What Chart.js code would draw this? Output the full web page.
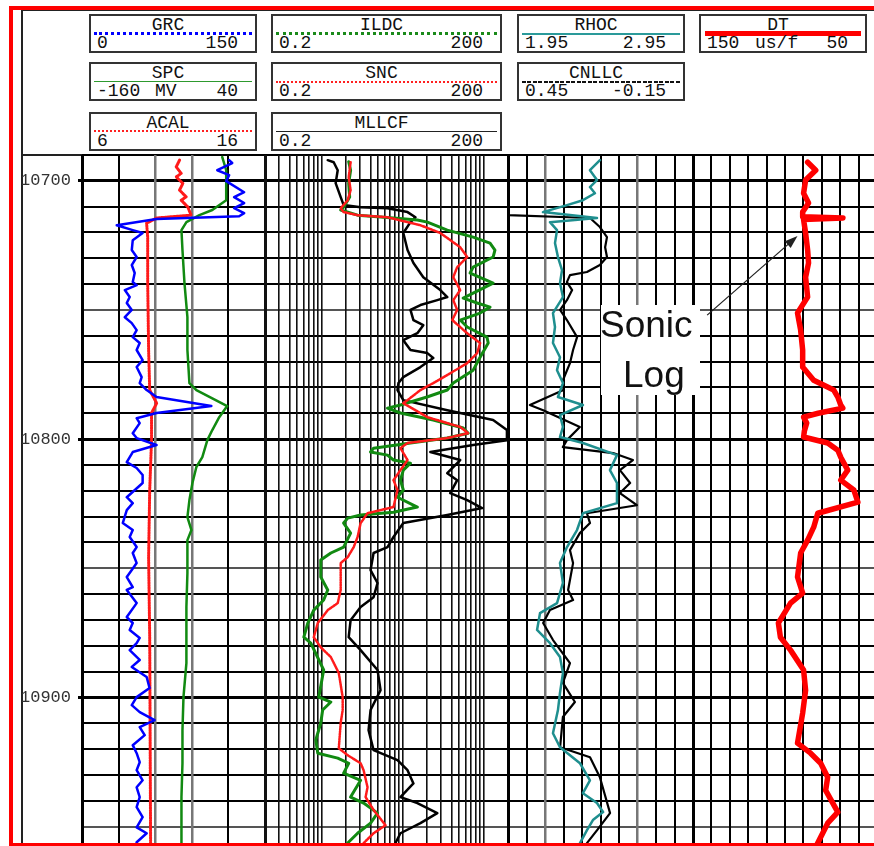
<!DOCTYPE html>
<html>
<head>
<meta charset="utf-8">
<title>Well log</title>
<script src="https://cdn.jsdelivr.net/npm/chart.js@4.4.1/dist/chart.umd.min.js"></script>
<style>
  html, body { margin: 0; padding: 0; background: #fff; }
  #page { position: relative; width: 874px; height: 846px; overflow: hidden; background: #fff; }
  #redFrame { position: absolute; left: 9px; top: 6px; width: 900px; height: 833px; z-index: 5;
              border-left: 4px solid #ff0000; border-top: 4px solid #ff0000; border-bottom: 3px solid #ff0000; }
  .rule { position: absolute; background: #222; }
  canvas { position: absolute; }
  .box { position: absolute; height: 39px; box-sizing: border-box; border: 2px solid #333;
         font-family: 'Liberation Mono', 'Courier New', monospace; font-size: 18px; color: #111; }
  .box .t { position: absolute; left: 0; right: 10px; top: 1px; line-height: 16px; text-align: center; }
  .box .ln { position: absolute; left: 3px; right: 3px; height: 0; }
  .box .lo, .box .hi, .box .mid { position: absolute; top: 19px; line-height: 16px; white-space: pre; }
  .box .lo { left: 6px; }
  .box .hi { right: 17px; }
  #note { position: absolute; left: 601px; top: 305px; width: 99px; height: 90px; background: #fff; z-index: 3; }
  #note span { position: absolute; font-family: 'Liberation Sans', Arial, sans-serif; font-size: 37px; line-height: 37px; color: #111; }
</style>
</head>
<body>
<div id="page">
  <div class="rule" style="left:21px;top:10px;width:2px;height:836px"></div>
  <div class="rule" style="left:21px;top:10px;width:860px;height:1px"></div>
  <div class="rule" style="left:21px;top:154px;width:860px;height:2px"></div>

  <!-- curve headers -->
  <div class="box" style="left:89px;top:14px;width:168px">
    <div class="t">GRC</div>
    <div class="ln" style="top:16px;border-top:3px dotted #0000ff"></div>
    <span class="lo">0</span><span class="hi">150</span>
  </div>
  <div class="box" style="left:89px;top:62px;width:168px">
    <div class="t">SPC</div>
    <div class="ln" style="top:17px;border-top:1.5px solid #2e9a2e"></div>
    <span class="lo">-160</span><span class="mid" style="left:64px">MV</span><span class="hi">40</span>
  </div>
  <div class="box" style="left:89px;top:112px;width:168px">
    <div class="t">ACAL</div>
    <div class="ln" style="top:16px;border-top:2.5px dotted #ff2020"></div>
    <span class="lo">6</span><span class="hi">16</span>
  </div>
  <div class="box" style="left:271px;top:14px;width:231px">
    <div class="t">ILDC</div>
    <div class="ln" style="top:16px;border-top:3px dotted #1a8a1a"></div>
    <span class="lo">0.2</span><span class="hi">200</span>
  </div>
  <div class="box" style="left:271px;top:62px;width:231px">
    <div class="t">SNC</div>
    <div class="ln" style="top:16.5px;border-top:2px dotted #ff2020"></div>
    <span class="lo">0.2</span><span class="hi">200</span>
  </div>
  <div class="box" style="left:271px;top:112px;width:231px">
    <div class="t">MLLCF</div>
    <div class="ln" style="top:17px;border-top:1.5px solid #222"></div>
    <span class="lo">0.2</span><span class="hi">200</span>
  </div>
  <div class="box" style="left:517px;top:14px;width:168px">
    <div class="t">RHOC</div>
    <div class="ln" style="top:16.5px;border-top:2px solid #2a9a9a"></div>
    <span class="lo">1.95</span><span class="hi">2.95</span>
  </div>
  <div class="box" style="left:517px;top:62px;width:168px">
    <div class="t">CNLLC</div>
    <div class="ln" style="top:16.5px;height:2.5px;background:repeating-linear-gradient(90deg,#111 0 4px,transparent 4px 5.5px)"></div>
    <span class="lo">0.45</span><span class="hi">-0.15</span>
  </div>
  <div class="box" style="left:699px;top:14px;width:168px">
    <div class="t">DT</div>
    <div class="ln" style="top:15px;left:4px;right:4px;border-top:5.5px solid #ff0000"></div>
    <span class="lo">150</span><span class="mid" style="left:54px">us/f</span><span class="hi">50</span>
  </div>

  <canvas id="track1" width="249" height="696" style="left:20px;top:153px"></canvas>
  <canvas id="track2" width="251" height="696" style="left:261px;top:153px"></canvas>
  <canvas id="track3" width="193" height="696" style="left:504px;top:153px"></canvas>
  <canvas id="track4" width="192" height="696" style="left:689px;top:153px"></canvas>

  <div id="note">
    <span style="left:-1px;top:0.5px">Sonic</span>
    <span style="left:22px;top:50.5px">Log</span>
  </div>
  <div id="redFrame"></div>
</div>

<script>
// ---- depth axis ----
const depthMin = 10690;
const depthMax = 10958.7;
const depthLabels = [10700, 10800, 10900];
const depthGrid = [];
for (let d = 10690; d <= 10950; d += 10) depthGrid.push(d);

// ---- track 1 curves: [depth, value] ----
const grcCurve = [
  [10692.0,120.6],[10693.1,123.1],[10695.9,110.9],[10697.8,120.6],[10700.1,118.2],[10704.4,132.9],
  [10706.3,124.7],[10708.6,132.9],[10710.6,124.7],[10712.5,132.9],[10713.7,128.8],[10714.8,61.1],
  [10717.2,28.5],[10719.1,41.6],[10720.2,49.7],[10723.0,41.6],[10726.8,40.8],[10729.5,44.8],
  [10732.6,40.8],[10735.7,43.2],[10739.2,41.6],[10740.4,44.8],[10742.3,35.1],[10745.0,39.1],
  [10747.3,36.7],[10750.0,40.8],[10752.8,35.1],[10755.1,40.8],[10757.8,44.8],[10760.5,41.6],
  [10762.8,47.3],[10765.5,44.8],[10769.4,49.7],[10772.1,44.8],[10776.0,48.9],[10778.3,47.3],
  [10781.0,53.0],[10783.7,61.1],[10787.2,106.0],[10789.9,61.1],[10791.9,44.8],[10793.8,47.3],
  [10797.7,41.6],[10799.6,44.8],[10802.3,61.1],[10805.0,41.6],[10808.9,36.7],[10811.2,44.8],
  [10813.9,49.7],[10817.0,49.7],[10822.5,36.7],[10824.8,41.6],[10827.5,36.7],[10832.5,33.4],
  [10835.2,41.6],[10837.9,39.1],[10841.8,44.8],[10844.1,41.6],[10848.0,44.8],[10850.7,40.8],
  [10853.4,36.7],[10857.3,41.6],[10858.4,36.7],[10863.5,44.8],[10868.9,36.7],[10871.2,41.6],
  [10873.9,39.1],[10877.0,47.3],[10879.0,44.8],[10881.7,39.1],[10885.5,47.3],[10888.2,40.8],
  [10892.1,53.0],[10896.4,55.4],[10899.9,44.8],[10903.0,40.8],[10905.7,47.3],[10908.8,59.5],
  [10911.5,47.3],[10914.6,51.4],[10918.5,41.6],[10921.6,44.8],[10925.1,47.3],[10928.2,44.8],
  [10932.1,49.7],[10934.8,44.8],[10938.6,47.3],[10942.5,44.8],[10946.4,49.7],[10950.3,44.8],
  [10952.6,53.0],[10956.1,44.8],[10959.0,44.0]
];
const spcCurve = [
  [10690.8,-6.7],[10695.9,-2.4],[10700.1,-2.4],[10707.5,-2.4],[10711.3,-17.6],[10713.3,-31.7],
  [10716.0,-45.9],[10719.1,-51.3],[10726.8,-50.2],[10739.6,-48.0],[10752.8,-44.8],[10765.5,-44.8],
  [10778.3,-42.6],[10781.0,-35.0],[10784.2,-17.6],[10787.2,-1.3],[10791.5,-10.0],[10796.5,-17.6],
  [10800.4,-23.0],[10807.0,-28.5],[10810.8,-35.0],[10817.0,-39.3],[10823.6,-42.6],[10830.2,-44.8],
  [10835.2,-40.4],[10839.1,-44.8],[10851.9,-44.8],[10865.0,-45.9],[10886.7,-45.9],[10899.9,-49.1],
  [10912.7,-50.2],[10925.5,-50.2],[10938.6,-51.3],[10959.0,-51.3]
];
const acalCurve = [
  [10692.0,11.33],[10694.6,11.15],[10697.1,11.42],[10698.5,11.15],[10701.0,11.51],[10703.6,11.33],
  [10706.2,11.69],[10707.5,11.42],[10710.1,11.78],[10713.3,11.96],[10714.4,10.08],[10716.4,9.53],
  [10721.8,9.59],[10739.6,9.59],[10765.5,9.64],[10781.0,9.70],[10786.1,10.08],[10789.9,9.80],
  [10800.4,9.80],[10819.7,9.70],[10845.7,9.64],[10876.7,9.70],[10959.0,9.75]
];

// ---- track 2 curves (log 0.2 - 200) ----
const ildcCurve = [
  [10692.6,2.16],[10695.9,2.28],[10700.9,2.16],[10706.3,2.22],[10710.2,1.87],[10711.3,1.72],
  [10713.3,2.78],[10714.4,7.71],[10715.2,15.2],[10716.0,20.2],[10719.1,35.6],[10721.8,74.3],
  [10724.1,120],[10726.8,138],[10729.5,131],[10733.4,74.3],[10735.7,68.2],[10739.6,131],
  [10743.5,74.3],[10745.4,56.0],[10747.3,83.2],[10748.9,120],[10751.2,90.5],[10753.9,51.4],
  [10756.6,62.7],[10760.5,110],[10762.8,114],[10768.3,90.5],[10773.3,74.3],[10778.3,42.2],
  [10781.0,35.6],[10783.7,20.0],[10786.8,9.40],[10788.0,6.51],[10789.9,9.40],[10792.6,23.9],
  [10795.7,56.0],[10797.7,64.5],[10799.6,35.6],[10801.5,12.5],[10803.5,4.38],[10805.0,4.02],
  [10806.2,6.51],[10808.1,7.71],[10809.3,12.5],[10812.0,10.2],[10815.9,9.40],[10819.7,10.2],
  [10822.5,8.64],[10826.3,15.2],[10828.3,7.71],[10829.4,3.03],[10830.6,2.10],[10832.5,1.87],
  [10836.4,2.28],[10841.8,1.87],[10844.1,1.30],[10846.8,0.976],[10853.4,0.976],[10858.4,1.19],
  [10862.3,1.06],[10866.2,0.80],[10871.2,0.676],[10876.7,0.603],[10879.0,0.736],[10889.4,1.06],
  [10899.9,0.923],[10901.8,1.30],[10904.9,1.03],[10909.9,0.976],[10916.5,0.848],[10921.6,0.897],
  [10923.5,1.58],[10925.5,2.16],[10929.3,1.87],[10932.1,3.03],[10938.6,2.28],[10940.9,3.30],
  [10944.8,4.90],[10948.7,4.02],[10952.6,2.78],[10956.4,2.10],[10959.0,1.90]
];
const sncCurve = [
  [10692.8,2.28],[10698.6,2.16],[10703.6,2.28],[10707.5,2.10],[10710.6,1.72],[10712.1,1.87],
  [10713.3,2.78],[10714.1,6.51],[10716.0,11.5],[10717.2,16.6],[10720.2,29.2],[10725.7,51.4],
  [10729.5,62.7],[10733.4,47.2],[10737.3,42.2],[10742.3,51.4],[10746.2,42.2],[10750.0,47.2],
  [10753.9,41.0],[10759.0,62.7],[10762.8,90.5],[10766.7,83.2],[10770.6,62.7],[10774.5,38.7],
  [10778.3,23.9],[10781.0,16.6],[10784.9,11.5],[10786.1,10.2],[10791.5,20.2],[10795.3,51.4],
  [10797.7,64.5],[10799.6,35.6],[10801.5,11.5],[10803.5,9.40],[10808.1,11.5],[10812.0,9.40],
  [10815.9,7.71],[10819.7,8.64],[10826.3,7.71],[10828.7,3.69],[10832.5,3.03],[10837.9,2.78],
  [10841.8,2.49],[10845.7,2.10],[10848.0,1.72],[10858.4,1.72],[10863.5,1.58],[10866.2,1.19],
  [10871.2,0.897],[10876.7,0.80],[10880.6,0.976],[10884.4,1.30],[10890.6,1.63],[10899.9,1.82],
  [10904.9,1.82],[10909.9,1.72],[10919.7,1.63],[10922.4,2.10],[10925.5,3.03],[10928.2,3.30],
  [10934.8,3.69],[10938.6,3.49],[10943.6,4.38],[10949.5,6.15],[10952.6,4.38],[10956.4,3.30],
  [10959.0,2.90]
];
const mllcfCurve = [
  [10692.0,1.19],[10692.8,1.41],[10695.9,1.58],[10700.9,1.49],[10706.3,1.72],[10709.4,1.87],
  [10710.2,3.03],[10710.6,6.51],[10712.1,11.5],[10714.1,14.4],[10716.0,12.5],[10720.2,10.2],
  [10726.8,11.5],[10731.8,13.6],[10737.3,18.0],[10742.3,29.2],[10745.0,35.6],[10746.2,26.8],
  [10748.1,16.6],[10750.0,12.5],[10753.9,13.6],[10755.9,18.0],[10759.0,15.2],[10761.7,10.2],
  [10765.5,12.5],[10766.7,20.2],[10768.6,23.9],[10772.1,16.6],[10776.0,10.2],[10778.3,8.88],
  [10781.0,8.64],[10784.9,10.2],[10788.8,35.6],[10792.6,131],[10796.5,194],[10800.4,194],
  [10802.3,74.3],[10805.0,22.0],[10808.1,51.4],[10813.2,35.6],[10815.9,47.2],[10820.9,38.7],
  [10823.6,62.7],[10826.7,95.8],[10829.4,35.6],[10832.5,10.2],[10837.9,7.71],[10841.8,6.51],
  [10844.1,4.38],[10850.7,4.02],[10855.7,4.90],[10861.2,4.38],[10865.0,3.03],[10870.1,2.28],
  [10876.7,2.16],[10881.7,3.03],[10889.4,4.90],[10897.2,5.34],[10904.9,4.02],[10912.7,3.80],
  [10920.4,4.38],[10924.3,8.64],[10928.2,11.5],[10933.3,13.6],[10938.6,9.40],[10940.9,15.2],
  [10944.8,26.8],[10948.7,16.6],[10952.6,9.40],[10956.4,8.16],[10959.0,8.0]
];

// ---- track 3 curves ----
const rhocCurve = [
  [10692.0,2.447],[10695.9,2.393],[10699.7,2.431],[10702.4,2.393],[10704.8,2.420],[10707.5,2.355],
  [10709.4,2.269],[10712.1,2.139],[10714.4,2.431],[10716.0,2.177],[10719.1,2.215],[10724.1,2.204],
  [10729.5,2.220],[10734.6,2.242],[10739.6,2.231],[10745.0,2.247],[10751.2,2.193],[10756.6,2.204],
  [10762.8,2.193],[10768.3,2.231],[10773.3,2.215],[10778.3,2.247],[10783.7,2.220],[10786.8,2.355],
  [10790.7,2.231],[10795.3,2.247],[10799.2,2.231],[10801.5,2.355],[10806.2,2.539],[10812.0,2.501],
  [10817.0,2.539],[10824.8,2.539],[10828.7,2.355],[10835.2,2.323],[10841.8,2.269],[10848.0,2.231],
  [10855.7,2.247],[10863.5,2.215],[10867.4,2.123],[10873.9,2.107],[10879.0,2.177],[10884.4,2.231],
  [10890.6,2.247],[10898.3,2.231],[10904.9,2.220],[10913.9,2.193],[10919.3,2.231],[10925.5,2.339],
  [10932.1,2.393],[10937.1,2.355],[10940.9,2.431],[10944.4,2.464],[10947.5,2.409],[10951.4,2.377],
  [10956.4,2.339],[10959.0,2.33]
];
const cnllcCurve = [
  [10691.0,0.45],[10713.3,0.45],[10714.4,0.184],[10717.9,0.152],[10721.8,0.129],[10725.7,0.135],
  [10729.5,0.129],[10732.6,0.152],[10735.3,0.194],[10736.5,0.249],[10739.2,0.259],[10742.3,0.242],
  [10746.2,0.259],[10750.0,0.281],[10753.9,0.259],[10760.5,0.226],[10765.5,0.239],[10770.6,0.249],
  [10777.2,0.272],[10781.0,0.270],[10786.8,0.379],[10788.8,0.336],[10795.3,0.217],[10800.4,0.259],
  [10803.1,0.272],[10805.4,0.109],[10808.1,0.045],[10812.0,0.087],[10817.0,0.054],[10820.9,0.087],
  [10825.6,0.032],[10828.7,0.194],[10832.5,0.184],[10836.4,0.217],[10843.0,0.249],[10848.0,0.239],
  [10858.4,0.255],[10862.3,0.239],[10866.2,0.314],[10871.2,0.336],[10877.8,0.304],[10886.7,0.249],
  [10894.4,0.272],[10901.8,0.233],[10907.6,0.272],[10919.3,0.281],[10923.2,0.184],[10930.9,0.152],
  [10944.8,0.119],[10951.4,0.161],[10956.4,0.194],[10959.0,0.20]
];

// ---- track 4 curve ----
const dtCurve = [
  [10692.8,87.7],[10695.9,83.3],[10699.7,88.8],[10704.8,89.9],[10708.6,87.2],[10712.1,90.4],
  [10713.9,90.4],[10714.4,68.5],[10715.0,89.9],[10720.2,88.8],[10726.8,87.7],[10731.8,87.2],
  [10737.3,88.8],[10745.0,87.7],[10751.2,93.2],[10757.8,91.5],[10765.5,90.4],[10772.1,90.4],
  [10777.2,84.4],[10781.0,73.5],[10783.7,71.3],[10786.8,69.7],[10788.0,68.6],[10790.0,82.0],
  [10791.5,89.9],[10793.8,88.2],[10797.0,89.5],[10799.2,89.9],[10801.5,76.8],[10804.3,71.3],
  [10807.0,69.7],[10812.0,65.9],[10815.9,69.7],[10819.7,62.6],[10824.4,60.4],[10828.7,82.2],
  [10834.1,84.4],[10839.1,87.7],[10844.1,91.5],[10853.4,93.2],[10859.6,90.4],[10863.5,97.0],
  [10871.2,103.6],[10876.7,102.5],[10881.7,97.0],[10889.4,89.9],[10897.2,88.8],[10906.1,90.4],
  [10917.7,93.2],[10921.6,86.1],[10925.5,80.6],[10930.9,76.8],[10936.0,77.9],[10944.4,71.3],
  [10948.7,76.8],[10956.4,82.2],[10959.0,84.0]
];

// annotation arrow: [DT value, depth]
const sonicArrowTail = [142.3, 10752.0];
const sonicArrowTip = [93.2, 10721.4];

// ---- helpers ----
Chart.defaults.font.family = "'Liberation Mono', 'Courier New', monospace";
Chart.defaults.animation = false;

const toPoints = curve => curve.map(p => ({ x: p[1], y: p[0] }));

function depthScale(showLabels) {
  return {
    type: 'linear', position: 'left', reverse: true, min: depthMin, max: depthMax,
    afterBuildTicks: s => { s.ticks = depthGrid.map(v => ({ value: v })); },
    // no label padding: chart area must span the whole canvas height
    afterFit: s => { s.width = showLabels ? 60 : 0; s.paddingTop = 0; s.paddingBottom = 0; },
    border: { display: false },
    grid: {
      color: ctx => (ctx.tick && ctx.tick.value % 50 === 0 && ctx.tick.value % 100 !== 0) ? '#555' : '#000',
      lineWidth: ctx => (ctx.tick && ctx.tick.value % 100 === 0) ? 3 : 2,
      drawTicks: showLabels,
      tickLength: 4,
      tickColor: ctx => (ctx.tick && depthLabels.includes(ctx.tick.value)) ? '#000' : 'rgba(0,0,0,0)'
    },
    ticks: {
      display: showLabels, autoSkip: false, padding: 7, color: '#333',
      font: { size: 17 },
      callback: v => depthLabels.includes(v) ? String(v) : ''
    }
  };
}

const zeroFit = s => { s.height = 0; s.paddingLeft = 0; s.paddingRight = 0; };

function linearGrid(divs, grayIdx) {
  return {
    type: 'linear', position: 'bottom', min: 0, max: divs,
    afterBuildTicks: s => { s.ticks = Array.from({ length: divs + 1 }, (_, i) => ({ value: i })); },
    afterFit: zeroFit,
    border: { display: false },
    ticks: { display: false },
    grid: {
      drawTicks: false,
      color: ctx => grayIdx.includes(ctx.index) ? '#777' : '#000',
      lineWidth: ctx => (ctx.index === 0 || ctx.index === divs) ? 3 : (grayIdx.includes(ctx.index) ? 2.5 : 2)
    }
  };
}

const logGridValues = [];
[0.1, 1, 10, 100].forEach(p => {
  for (let m = 1; m <= 9; m++) {
    const v = +(m * p).toPrecision(2);
    if (v >= 0.2 && v <= 200) logGridValues.push(v);
  }
});

function logGrid() {
  const last = logGridValues.length - 1;
  return {
    type: 'logarithmic', position: 'bottom', min: 0.2, max: 200,
    afterBuildTicks: s => { s.ticks = logGridValues.map(v => ({ value: v })); },
    afterFit: zeroFit,
    border: { display: false },
    ticks: { display: false },
    grid: {
      drawTicks: false,
      color: '#111',
      lineWidth: ctx => (ctx.index === 0 || ctx.index === last) ? 3 : 1.6
    }
  };
}

const hiddenX = (min, max, extra) => Object.assign({ type: 'linear', position: 'bottom', display: false, min, max }, extra || {});

function curve(label, data, axis, color, width, dash) {
  return {
    label, data: toPoints(data), xAxisID: axis, yAxisID: 'y',
    showLine: true, pointRadius: 0, pointHoverRadius: 0, borderColor: color, borderWidth: width,
    borderDash: dash || [], borderJoinStyle: 'round', borderCapStyle: 'round', tension: 0
  };
}

function makeTrack(id, scales, datasets, padLeft, plugins) {
  return new Chart(document.getElementById(id), {
    type: 'scatter',
    data: { datasets },
    options: {
      responsive: false, animation: false,
      layout: { autoPadding: false, padding: { left: padLeft, right: 4, top: 2, bottom: 0 } },
      plugins: { legend: { display: false }, tooltip: { enabled: false } },
      scales
    },
    plugins: plugins || []
  });
}

// track 1: GR / SP / caliper
makeTrack('track1', {
  y: depthScale(true),
  xg: linearGrid(5, [2, 3]),
  xGRC: hiddenX(0, 150),
  xSPC: hiddenX(-160, 40),
  xACAL: hiddenX(6, 16)
}, [
  curve('GRC', grcCurve, 'xGRC', '#0000ff', 2.5),
  curve('SPC', spcCurve, 'xSPC', '#118a11', 2.5),
  curve('ACAL', acalCurve, 'xACAL', '#ff1a1a', 3, [1.5, 1])
], 2);

// track 2: resistivity (log)
makeTrack('track2', {
  y: depthScale(false),
  xg: logGrid(),
  xRes: { type: 'logarithmic', position: 'bottom', display: false, min: 0.2, max: 200 }
}, [
  curve('SNC', sncCurve, 'xRes', '#ff1a1a', 2.5, [1.5, 1]),
  curve('ILDC', ildcCurve, 'xRes', '#118a11', 3),
  curve('MLLCF', mllcfCurve, 'xRes', '#000000', 2.5)
], 4);

// track 3: density / neutron
makeTrack('track3', {
  y: depthScale(false),
  xg: linearGrid(10, [2, 7]),
  xRHOC: hiddenX(1.95, 2.95),
  xCNL: hiddenX(-0.15, 0.45, { reverse: true })
}, [
  curve('RHOC', rhocCurve, 'xRHOC', '#1f8f8f', 2.5),
  curve('CNLLC', cnllcCurve, 'xCNL', '#000000', 2.2)
], 4);

// arrow pointing at the sonic curve
const sonicArrow = {
  id: 'sonicArrow',
  afterDatasetsDraw(chart) {
    const xs = chart.scales.xDT, ys = chart.scales.y, c = chart.ctx;
    const x0 = xs.getPixelForValue(sonicArrowTail[0]), y0 = ys.getPixelForValue(sonicArrowTail[1]);
    const x1 = xs.getPixelForValue(sonicArrowTip[0]), y1 = ys.getPixelForValue(sonicArrowTip[1]);
    const a = Math.atan2(y1 - y0, x1 - x0);
    c.save();
    c.strokeStyle = '#222';
    c.fillStyle = '#222';
    c.lineWidth = 1.3;
    c.beginPath();
    c.moveTo(x0, y0);
    c.lineTo(x1 - 8 * Math.cos(a), y1 - 8 * Math.sin(a));
    c.stroke();
    c.beginPath();
    c.moveTo(x1, y1);
    c.lineTo(x1 - 13 * Math.cos(a) + 4.5 * Math.sin(a), y1 - 13 * Math.sin(a) - 4.5 * Math.cos(a));
    c.lineTo(x1 - 13 * Math.cos(a) - 4.5 * Math.sin(a), y1 - 13 * Math.sin(a) + 4.5 * Math.cos(a));
    c.closePath();
    c.fill();
    c.restore();
  }
};

// track 4: sonic
makeTrack('track4', {
  y: depthScale(false),
  xg: linearGrid(10, []),
  xDT: hiddenX(50, 150, { reverse: true })
}, [
  curve('DT', dtCurve, 'xDT', '#ff0000', 5.5)
], 4, [sonicArrow]);
</script>
</body>
</html>
